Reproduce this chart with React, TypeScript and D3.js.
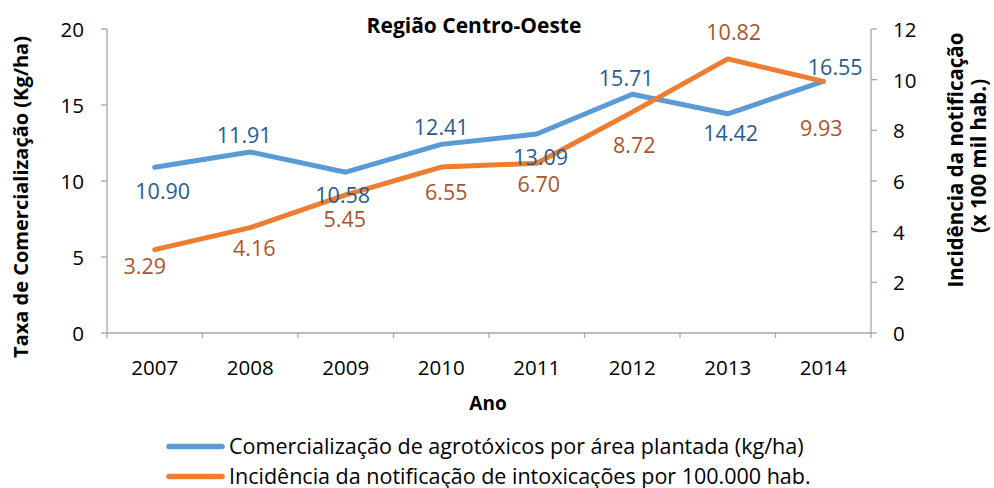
import React from "react";
import * as d3 from "d3";

const years = ["2007", "2008", "2009", "2010", "2011", "2012", "2013", "2014"];
const comercializacao = [10.9, 11.91, 10.58, 12.41, 13.09, 15.71, 14.42, 16.55];
const incidencia = [3.29, 4.16, 5.45, 6.55, 6.7, 8.72, 10.82, 9.93];
const leftTicks = [0, 5, 10, 15, 20];
const rightTicks = [0, 2, 4, 6, 8, 10, 12];
const legendLabels = [
  "Comercialização de agrotóxicos por área plantada (kg/ha)",
  "Incidência da notificação de intoxicações por 100.000 hab.",
];

// label placement offsets (layout only)
const blueOffsets: [number, number][] = [
  [8, 23], [-6, -17], [-3, 22], [0, -18], [4, 22], [-6, -17], [3, 19], [12, -15],
];
const orangeOffsets: [number, number][] = [
  [-10, 16], [4, 20], [-1, 24], [5, 24], [2, 20], [2, 32], [6, -27], [-2, 46],
];

const W = 994;
const H = 488;
const M = { left: 107, right: 871, top: 29, bottom: 333 };
const FONT = "'Open Sans', 'DejaVu Sans', sans-serif";
const BLUE = "#5B9BD5";
const ORANGE = "#ED7D31";
const BLUE_TXT = "#285C90";
const ORANGE_TXT = "#A9552B";
const AXIS = "#A6A6A6";

export default function App() {
  const x = d3.scaleBand<string>().domain(years).range([M.left, M.right]);
  const yL = d3.scaleLinear().domain([0, 20]).range([M.bottom, M.top]);
  const yR = d3.scaleLinear().domain([0, 12]).range([M.bottom, M.top]);
  const cx = (d: string) => (x(d) as number) + x.bandwidth() / 2;

  const blueLine = d3
    .line<number>()
    .x((_, i) => cx(years[i]))
    .y((v) => yL(v))(comercializacao) as string;
  const orangeLine = d3
    .line<number>()
    .x((_, i) => cx(years[i]))
    .y((v) => yR(v))(incidencia) as string;

  const boundaries = years.map((y) => x(y) as number).concat([M.right]);

  return (
    <svg
      width={W}
      height={H}
      style={{ position: "absolute", left: 0, top: 0, background: "#fff" }}
      fontFamily={FONT}
    >
      {/* axes */}
      <line x1={M.left} x2={M.left} y1={M.top} y2={M.bottom} stroke={AXIS} strokeWidth={1.3} />
      <line x1={M.right} x2={M.right} y1={M.top} y2={M.bottom} stroke={AXIS} strokeWidth={1.3} />
      <line x1={M.left} x2={M.right} y1={M.bottom} y2={M.bottom} stroke={AXIS} strokeWidth={1.3} />
      {leftTicks.map((t) => (
        <g key={"l" + t}>
          <line x1={M.left - 6} x2={M.left} y1={yL(t)} y2={yL(t)} stroke={AXIS} strokeWidth={1.3} />
          <text x={84} y={yL(t)} textAnchor="end" dominantBaseline="central" fontSize={20.5} fill="#000">
            {t}
          </text>
        </g>
      ))}
      {rightTicks.map((t) => (
        <g key={"r" + t}>
          <line x1={M.right} x2={M.right + 6} y1={yR(t)} y2={yR(t)} stroke={AXIS} strokeWidth={1.3} />
          <text x={893} y={yR(t)} textAnchor="start" dominantBaseline="central" fontSize={20.5} fill="#000">
            {t}
          </text>
        </g>
      ))}
      {boundaries.map((b, i) => (
        <line key={"xt" + i} x1={b} x2={b} y1={M.bottom} y2={M.bottom + 5} stroke={AXIS} strokeWidth={1.3} />
      ))}
      {years.map((y) => (
        <text key={"xl" + y} x={cx(y)} y={367} textAnchor="middle" dominantBaseline="central" fontSize={20.5} fill="#000">
          {y}
        </text>
      ))}

      {/* lines */}
      <path d={blueLine} fill="none" stroke={BLUE} strokeWidth={5} strokeLinecap="round" strokeLinejoin="round" />
      <path d={orangeLine} fill="none" stroke={ORANGE} strokeWidth={5} strokeLinecap="round" strokeLinejoin="round" />

      {/* data labels */}
      {comercializacao.map((v, i) => (
        <text
          key={"bl" + i}
          x={cx(years[i]) + blueOffsets[i][0]}
          y={yL(v) + blueOffsets[i][1]}
          textAnchor="middle"
          dominantBaseline="central"
          fontSize={21.5}
          fill={BLUE_TXT}
        >
          {v.toFixed(2)}
        </text>
      ))}
      {incidencia.map((v, i) => (
        <text
          key={"ol" + i}
          x={cx(years[i]) + orangeOffsets[i][0]}
          y={yR(v) + orangeOffsets[i][1]}
          textAnchor="middle"
          dominantBaseline="central"
          fontSize={21.5}
          fill={ORANGE_TXT}
        >
          {v.toFixed(2)}
        </text>
      ))}

      {/* titles */}
      <text x={474} y={25} textAnchor="middle" dominantBaseline="central" fontSize={21} fontWeight="bold" fill="#000">
        Região Centro-Oeste
      </text>
      <text x={488} y={403} textAnchor="middle" dominantBaseline="central" fontSize={19} fontWeight="bold" fill="#000">
        Ano
      </text>
      <text
        transform={`translate(20,197) rotate(-90)`}
        textAnchor="middle"
        dominantBaseline="central"
        fontSize={20}
        fontWeight="bold"
        fill="#000"
      >
        Taxa de Comercialização (Kg/ha)
      </text>
      <text
        transform={`translate(955,160) rotate(-90)`}
        textAnchor="middle"
        dominantBaseline="central"
        fontSize={20.5}
        fontWeight="bold"
        fill="#000"
      >
        Incidência da notificação
      </text>
      <text
        transform={`translate(978,156) rotate(-90)`}
        textAnchor="middle"
        dominantBaseline="central"
        fontSize={20.5}
        fontWeight="bold"
        fill="#000"
      >
        (x 100 mil hab.)
      </text>

      {/* legend */}
      {legendLabels.map((lbl, i) => {
        const ly = 446.5 + i * 30;
        return (
          <g key={"lg" + i}>
            <line x1={169} x2={222} y1={ly} y2={ly} stroke={i === 0 ? BLUE : ORANGE} strokeWidth={5.5} strokeLinecap="round" />
            <text x={229} y={ly - 1.5} dominantBaseline="central" fontSize={21.5} fill="#000">
              {lbl}
            </text>
          </g>
        );
      })}
    </svg>
  );
}
